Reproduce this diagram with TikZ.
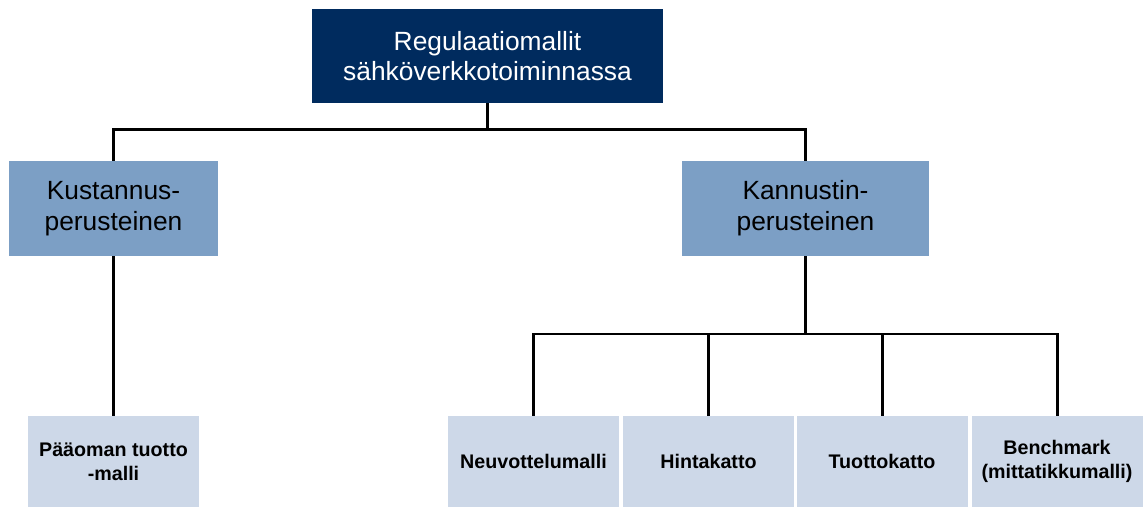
\documentclass[tikz,border=0pt]{standalone}
\usepackage{fontspec}
\setmainfont{Liberation Sans}
\usepackage{tikz}
\usetikzlibrary{positioning}
\definecolor{regNavy}{RGB}{0,43,94}
\definecolor{midBlue}{RGB}{124,159,197}
\definecolor{lowBlue}{RGB}{205,216,232}

\begin{document}
\begin{tikzpicture}
  \tikzset{topbox/.style={fill=regNavy,text=white,minimum width=7.02cm,minimum height=1.88cm,align=center,inner sep=0pt,font=\fontsize{15}{17.5}\selectfont},
    midbox/.style={fill=midBlue,minimum height=1.9cm,align=center,inner sep=0pt,font=\fontsize{15}{17.5}\selectfont},
    lowbox/.style={fill=lowBlue,minimum width=3.42cm,minimum height=1.82cm,align=center,inner sep=0pt,font=\bfseries\fontsize{11.2}{13.6}\selectfont},
    conn/.style={line width=1.7pt,black}}
  \useasboundingbox (0,0) rectangle (22.96,10.14);
  \node[topbox] (reg) at (9.75,9.02) {Regulaatiomallit\\sähköverkkotoiminnassa};
  \node[midbox,minimum width=4.18cm] (kust) at (2.27,5.97) {Kustannus-\\perusteinen};
  \node[midbox,minimum width=4.94cm] (kann) at (16.11,5.97) {Kannustin-\\perusteinen};
  \node[lowbox] (paaoma) at (2.27,0.91) {Pääoman tuotto\\-malli};
  \node[lowbox] (neuv) at (10.67,0.91) {Neuvottelumalli};
  \node[lowbox] (hinta) at (14.17,0.91) {Hintakatto};
  \node[lowbox] (tuotto) at (17.64,0.91) {Tuottokatto};
  \node[lowbox] (bench) at (21.14,0.91) {Benchmark\\(mittatikkumalli)};
  \coordinate (j1) at (9.75,7.54);
  \coordinate (j2) at (16.11,3.46);
  \draw[conn] (reg.south) -- (j1);
  \foreach \b in {kust,kann} {
    \draw[conn] (j1) -| (\b.north);
  }
  \draw[conn] (kust.south) -- (paaoma.north);
  \draw[conn] (kann.south) -- (j2);
  \foreach \b in {neuv,hinta,tuotto,bench} {
    \draw[conn] (j2) -| (\b.north);
  }
\end{tikzpicture}
\end{document}
